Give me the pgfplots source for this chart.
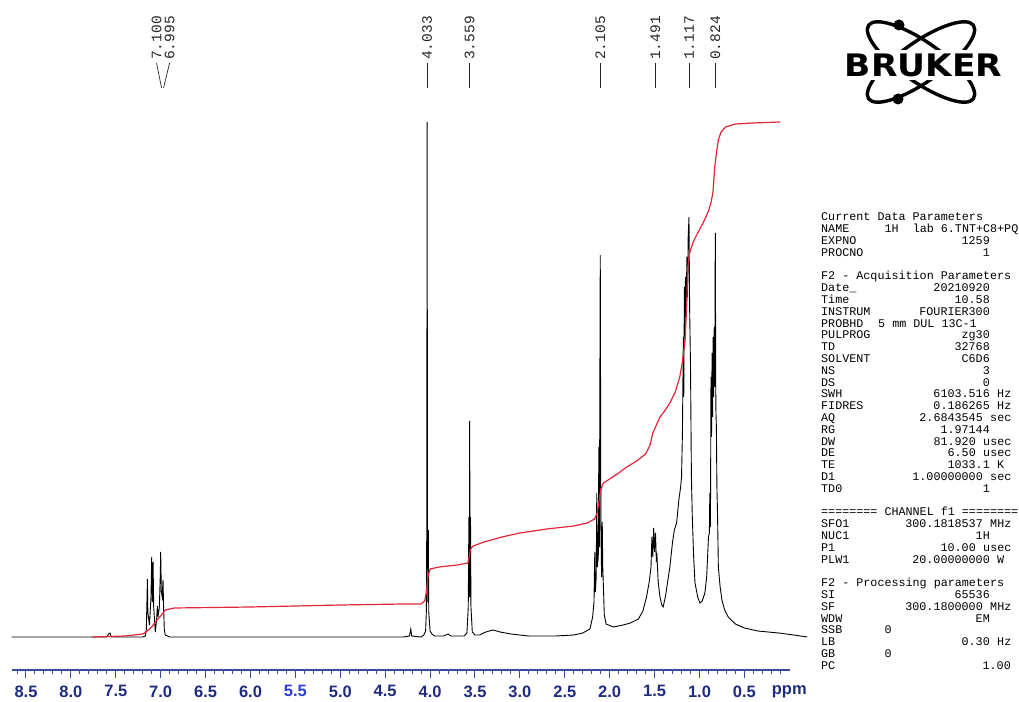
\documentclass[border=0pt]{standalone}
\usepackage{fontspec}
\usepackage{pgfplots}
\pgfplotsset{compat=1.18}
\setmainfont{Liberation Sans}
\newfontfamily\pmono{Liberation Mono}
\newfontfamily\axfont{Liberation Sans}
\newfontfamily\logofont{DejaVu Sans}
\definecolor{axnavy}{HTML}{1E2B7E}
\definecolor{axline}{HTML}{3B4A9C}
\definecolor{brightblue}{HTML}{2B3FD6}
\definecolor{intred}{HTML}{E02638}
\newcommand{\pfont}{\pmono\fontsize{11.73bp}{12bp}\selectfont}
\newcommand{\prowat}[5]{%
 \node[anchor=base west,inner sep=0] at (821,{221+11.8*#1}) {#2};
 \node[anchor=base east,inner sep=0] at (#5,{221+11.8*#1}) {#3};
 \node[anchor=base west,inner sep=0] at ({#5+7.04},{221+11.8*#1}) {#4};}
\newcommand{\prow}[4]{\prowat{#1}{#2}{#3}{#4}{990}}
\newcommand{\pline}[2]{\node[anchor=base west,inner sep=0] at (821,{221+11.8*#1}) {#2};}
\newcommand{\plabel}[2]{%
 \draw[black!85, line width=0.7bp] (axis cs:#1,549) -- (axis cs:#1,574);
 \node[rotate=90, anchor=west, inner sep=0, text=black!85, font=\pmono\fontsize{14.5bp}{14.5bp}\selectfont] at (axis cs:#1,577) {#2};}
\begin{document}
\begin{tikzpicture}
\begin{axis}[
  at={(12bp,32bp)}, anchor=south west, scale only axis,
  width=778.2bp, height=593bp,
  x dir=reverse, xmin=-0.01, xmax=8.656, ymin=-33, ymax=560,
  axis x line*=bottom, axis y line=none,
  clip=false,
  xtick={8.5,8.0,7.5,7.0,6.5,6.0,5.5,5.0,4.5,4.0,3.5,3.0,2.5,2.0,1.5,1.0,0.5},
  xticklabels={8.5,8.0,7.5,7.0,6.5,6.0,{\color{brightblue}5.5},5.0,4.5,4.0,3.5,3.0,2.5,2.0,1.5,1.0,0.5},
  minor xtick={0.1,0.2,0.3,0.4,0.6,0.7,0.8,0.9,1.1,1.2,1.3,1.4,1.6,1.7,1.8,1.9,2.1,2.2,2.3,2.4,2.6,2.7,2.8,2.9,3.1,3.2,3.3,3.4,3.6,3.7,3.8,3.9,4.1,4.2,4.3,4.4,4.6,4.7,4.8,4.9,5.1,5.2,5.3,5.4,5.6,5.7,5.8,5.9,6.1,6.2,6.3,6.4,6.6,6.7,6.8,6.9,7.1,7.2,7.3,7.4,7.6,7.7,7.8,7.9,8.1,8.2,8.3,8.4,8.6},
  extra x ticks={0}, extra x tick labels={ppm},
  extra x tick style={tick style={draw=none}},
  tick align=outside,
  major tick length=8bp, minor tick length=4bp,
  every tick/.style={axline, line width=1bp},
  axis line style={axline, line width=1.6bp, -},
  xticklabel style={font=\axfont\bfseries\fontsize{16.5bp}{16.5bp}\selectfont, text=axnavy, yshift=-4bp},
]
% 1H spectrum (intensity in plot units above baseline)
\addplot[black, line width=0.9bp] coordinates {
(8.66,0) (7.60,0) (7.58,3) (7.565,4) (7.55,0) (7.20,0) (7.17,1) (7.16,8) (7.152,40) (7.148,58) (7.143,25) (7.125,12) (7.108,40) (7.100,80) (7.093,35) (7.085,75) (7.078,30) (7.06,5) (7.045,18) (7.037,31) (7.03,20) (7.015,30) (7.005,60) (7.000,85) (6.993,45) (6.983,40) (6.974,57) (6.968,30) (6.96,8) (6.95,2) (6.90,0) (4.30,0) (4.23,1) (4.215,8) (4.205,1) (4.10,0) (4.07,2) (4.05,6) (4.042,25) (4.037,110) (4.033,515) (4.029,110) (4.024,35) (4.020,107) (4.015,25) (4.0,6) (3.98,3) (3.95,1) (3.85,1) (3.80,3) (3.77,1) (3.62,1) (3.59,4) (3.575,30) (3.568,120) (3.563,40) (3.559,216) (3.555,40) (3.550,120) (3.545,30) (3.53,5) (3.50,2) (3.45,2) (3.38,5) (3.30,7) (3.22,5) (3.10,3) (2.90,1) (2.60,1) (2.40,2) (2.30,4) (2.22,8) (2.19,20) (2.175,35) (2.166,85) (2.160,45) (2.150,60) (2.144,144) (2.138,70) (2.127,80) (2.121,190) (2.115,90) (2.105,382) (2.098,110) (2.090,60) (2.083,115) (2.077,70) (2.06,22) (2.04,13) (1.96,10) (1.85,12) (1.77,14) (1.68,18) (1.63,26) (1.59,40) (1.56,55) (1.54,70) (1.53,100) (1.52,80) (1.51,109) (1.50,85) (1.49,104) (1.48,75) (1.475,84) (1.46,55) (1.44,40) (1.42,32) (1.405,30) (1.38,40) (1.33,70) (1.30,95) (1.28,107) (1.255,114) (1.23,137) (1.21,150) (1.20,160) (1.19,204) (1.18,300) (1.175,240) (1.168,350) (1.162,300) (1.156,360) (1.15,320) (1.14,380) (1.133,340) (1.126,400) (1.117,420) (1.11,330) (1.10,270) (1.09,160) (1.08,120) (1.065,80) (1.05,54) (1.02,40) (0.995,34) (0.97,36) (0.94,44) (0.92,60) (0.90,100) (0.89,104) (0.885,144) (0.878,110) (0.872,260) (0.866,200) (0.86,284) (0.854,220) (0.848,300) (0.842,240) (0.836,310) (0.830,250) (0.824,404) (0.818,230) (0.812,210) (0.806,150) (0.80,127) (0.795,100) (0.79,70) (0.77,50) (0.75,37) (0.72,27) (0.68,20) (0.60,13) (0.50,9) (0.35,6) (0.12,4) (-0.05,2) (-0.20,0)
};
% integral curve
\addplot[intred, line width=1.2bp] coordinates {
(7.76,0) (7.40,1) (7.20,3) (7.15,6) (7.10,10) (7.06,15) (7.00,21) (6.95,27) (6.85,29) (6.0,30) (5.0,32) (4.30,33) (4.10,33) (4.06,36) (4.04,45) (4.025,60) (4.00,68) (3.90,70) (3.70,72) (3.58,74) (3.565,80) (3.55,88) (3.52,91) (3.40,95) (3.20,100) (3.00,104) (2.70,108) (2.40,111) (2.25,114) (2.17,118) (2.14,124) (2.12,135) (2.10,147) (2.07,154) (2.00,158) (1.90,164) (1.81,170) (1.70,176) (1.60,183) (1.55,192) (1.52,204) (1.48,212) (1.44,220) (1.38,227) (1.33,234) (1.27,245) (1.22,260) (1.19,275) (1.16,297) (1.14,337) (1.13,370) (1.11,384) (1.07,395) (1.02,404) (0.96,414) (0.90,426) (0.87,435) (0.85,445) (0.83,470) (0.81,485) (0.79,497) (0.76,505) (0.71,510) (0.60,513) (0.40,514) (0.10,515)
};
% peak labels
\plabel{4.033}{4.033}
\plabel{3.559}{3.559}
\plabel{2.105}{2.105}
\plabel{1.491}{1.491}
\plabel{1.117}{1.117}
\plabel{0.824}{0.824}
\draw[black!85, line width=0.7bp] (axis cs:7.046,574) -- (axis cs:6.990,549);
\draw[black!85, line width=0.7bp] (axis cs:6.901,574) -- (axis cs:6.968,549);
\node[rotate=90, anchor=west, inner sep=0, text=black!85, font=\pmono\fontsize{14.5bp}{14.5bp}\selectfont] at (axis cs:7.046,577) {7.100};
\node[rotate=90, anchor=west, inner sep=0, text=black!85, font=\pmono\fontsize{14.5bp}{14.5bp}\selectfont] at (axis cs:6.901,577) {6.995};
\end{axis}
\begin{scope}[x=1bp,y=-1bp,shift={(0,702bp)}, every node/.style={font=\pfont}]
\pline{0}{Current Data Parameters}
\node[anchor=base west,inner sep=0] at (821,{221+11.8*1}) {NAME};
\node[anchor=base west,inner sep=0] at (884.4,{221+11.8*1}) {1H\ \ lab 6.TNT+C8+PQ};
\prow{2}{EXPNO}{1259}{}
\prow{3}{PROCNO}{1}{}
\pline{5}{F2 - Acquisition Parameters}
\prow{6}{Date\_}{20210920}{}
\prow{7}{Time}{10.58}{}
\prow{8}{INSTRUM}{FOURIER300}{}
\node[anchor=base west,inner sep=0] at (821,{221+11.8*9}) {PROBHD};
\node[anchor=base west,inner sep=0] at (878,{221+11.8*9}) {5 mm DUL 13C-1};
\prow{10}{PULPROG}{zg30}{}
\prow{11}{TD}{32768}{}
\prow{12}{SOLVENT}{C6D6}{}
\prow{13}{NS}{3}{}
\prow{14}{DS}{0}{}
\prow{15}{SWH}{6103.516}{Hz}
\prow{16}{FIDRES}{0.186265}{Hz}
\prowat{17}{AQ}{2.6843545}{sec}{983}
\prow{18}{RG}{1.97144}{}
\prowat{19}{DW}{81.920}{usec}{976}
\prowat{20}{DE}{6.50}{usec}{976}
\prow{21}{TE}{1033.1}{K}
\prowat{22}{D1}{1.00000000}{sec}{983}
\prow{23}{TD0}{1}{}
\pline{25}{======== CHANNEL f1 ========}
\prowat{26}{SFO1}{300.1818537}{MHz}{983}
\prow{27}{NUC1}{1H}{}
\prowat{28}{P1}{10.00}{usec}{976}
\prow{29}{PLW1}{20.00000000}{W}
\pline{31}{F2 - Processing parameters}
\prow{32}{SI}{65536}{}
\prowat{33}{SF}{300.1800000}{MHz}{983}
\prow{34}{WDW}{EM}{}
\pline{35}{SSB}
\node[anchor=base west,inner sep=0] at (884.4,{221+11.8*35}) {0};
\prow{36}{LB}{0.30}{Hz}
\pline{37}{GB}
\node[anchor=base west,inner sep=0] at (884.4,{221+11.8*37}) {0};
\pline{38}{PC}
\node[anchor=base east,inner sep=0] at (1011,{221+11.8*38}) {1.00};
% Bruker logo
\draw[line width=3.4bp, rotate around={35:(921,62)}] (921,62) ellipse [x radius=64, y radius=20];
\draw[line width=3.4bp, rotate around={-35:(921,62)}] (921,62) ellipse [x radius=64, y radius=20];
\fill (899,25) circle [radius=5.5];
\fill (898,99) circle [radius=5.5];
\fill[white] (841,50) rectangle (1006,80);
\node[inner sep=0, anchor=center, xscale=1.11, font=\logofont\bfseries\fontsize{31bp}{31bp}\selectfont] at (923.5,65) {BRUKER};
\end{scope}
\pgfresetboundingbox
\path[use as bounding box] (0,0) rectangle (1019bp,702bp);
\end{tikzpicture}
\end{document}
